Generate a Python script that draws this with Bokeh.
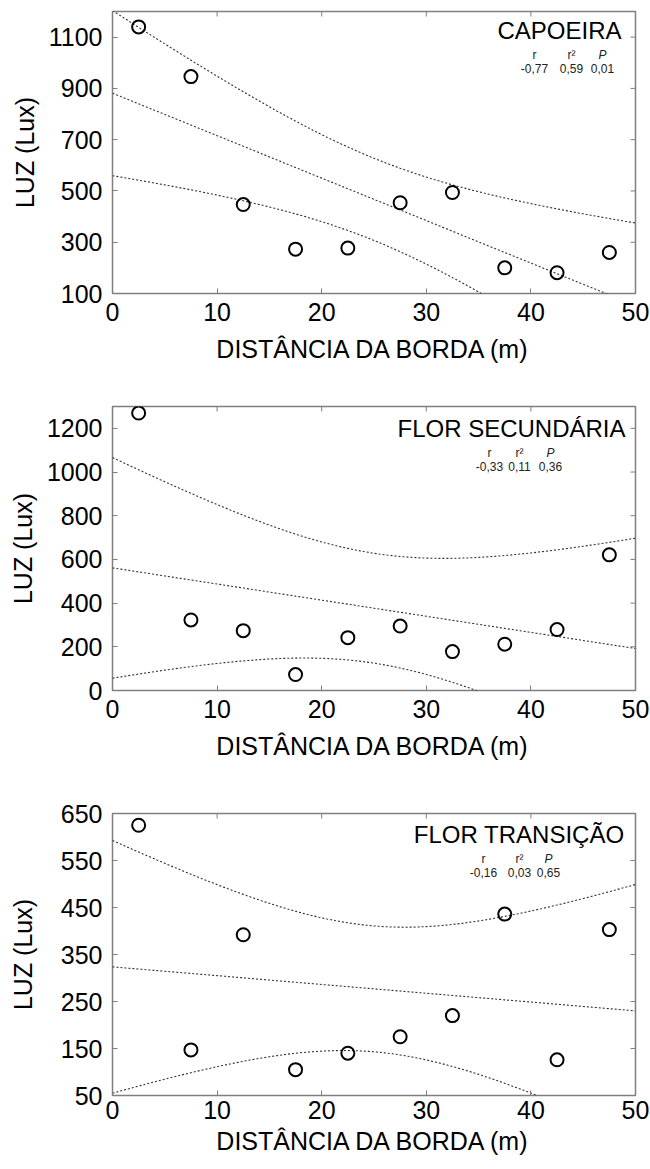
import numpy as np
from bokeh.plotting import figure
from bokeh.layouts import column
from bokeh.models import Range1d, FixedTicker, Label
from bokeh.embed import file_html
from bokeh.resources import INLINE

# ---------------- data ----------------
distance = [2.5, 7.5, 12.5, 17.5, 22.5, 27.5, 32.5, 37.5, 42.5, 47.5]
luz_capoeira = [1140, 946, 447, 273, 277, 454, 494, 200, 181, 260]
luz_secundaria = [1270, 323, 274, 73, 242, 295, 178, 212, 279, 621]
luz_transicao = [625, 147, 392, 105, 140, 175, 220, 436, 126, 403]

titles = ["CAPOEIRA", "FLOR SECUNDÁRIA", "FLOR TRANSIÇÃO"]
stat_r = ["-0,77", "-0,33", "-0,16"]
stat_r2 = ["0,59", "0,11", "0,03"]
stat_p = ["0,01", "0,36", "0,65"]

x_ticks = [0, 10, 20, 30, 40, 50]
y_ticks_capoeira = [100, 300, 500, 700, 900, 1100]
y_ticks_secundaria = [0, 200, 400, 600, 800, 1000, 1200]
y_ticks_transicao = [50, 150, 250, 350, 450, 550, 650]

x_label = "DISTÂNCIA DA BORDA (m)"
y_label = "LUZ (Lux)"

T_CRIT = 2.306  # t(0.975, df=8)

FONT = "Liberation Sans"
FRAME_COLOR = "#7f7f7f"
TICK_PX = 5


def regression_bands(x, y, xs):
    x = np.asarray(x, float)
    y = np.asarray(y, float)
    n = len(x)
    b, a = np.polyfit(x, y, 1)
    resid = y - (a + b * x)
    s = np.sqrt(np.sum(resid ** 2) / (n - 2))
    sxx = np.sum((x - x.mean()) ** 2)
    fit = a + b * xs
    half = T_CRIT * s * np.sqrt(1.0 / n + (xs - x.mean()) ** 2 / sxx)
    return fit, fit - half, fit + half


panels = [
    dict(y=luz_capoeira, ticks=y_ticks_capoeira, yr=(100, 1200), height=396,
         top=11, bottom=103, frame_h=282, tick_so=9, xlab_so=11, ylab_so=7,
         title_px=(509, 19), head_dy=43, val_dy=57, cols=(422, 459, 490)),
    dict(y=luz_secundaria, ticks=y_ticks_secundaria, yr=(0, 1300), height=397,
         top=10, bottom=103, frame_h=284, tick_so=9, xlab_so=11, ylab_so=7,
         title_px=(513, 22), head_dy=46, val_dy=60, cols=(377, 407, 438)),
    dict(y=luz_transicao, ticks=y_ticks_transicao, yr=(50, 650), height=376,
         top=20, bottom=74, frame_h=282, tick_so=5, xlab_so=5, ylab_so=21,
         title_px=(512, 21), head_dy=45, val_dy=59, cols=(371, 407, 436)),
]

FRAME_W = 523
figs = []
for i, cfg in enumerate(panels):
    y0, y1 = cfg["yr"]
    fh = cfg["frame_h"]

    def xd(px):
        return px / FRAME_W * 50.0

    def yd(px):
        return y1 - px / fh * (y1 - y0)

    p = figure(width=650, height=cfg["height"], output_backend="svg",
               toolbar_location=None, x_range=Range1d(0, 50),
               y_range=Range1d(y0, y1), min_border_left=112,
               min_border_right=15, min_border_top=cfg["top"],
               min_border_bottom=cfg["bottom"])
    p.xgrid.visible = False
    p.ygrid.visible = False
    p.outline_line_color = FRAME_COLOR
    p.outline_line_width = 1.5
    p.background_fill_color = "white"
    p.border_fill_color = "white"

    for ax, ticks in ((p.xaxis[0], x_ticks), (p.yaxis[0], cfg["ticks"])):
        ax.ticker = FixedTicker(ticks=ticks)
        ax.axis_line_color = None
        ax.major_tick_in = TICK_PX
        ax.major_tick_out = 0
        ax.major_tick_line_color = FRAME_COLOR
        ax.minor_tick_line_color = None
        ax.major_label_text_font = FONT
        ax.major_label_text_font_size = "25px"
        ax.major_label_text_color = "black"
        ax.axis_label_text_font = FONT
        ax.axis_label_text_font_size = "25px"
        ax.axis_label_text_font_style = "normal"
        ax.axis_label_text_color = "black"
    p.xaxis[0].axis_label = x_label
    p.yaxis[0].axis_label = y_label
    p.xaxis[0].major_label_standoff = cfg["tick_so"]
    p.yaxis[0].major_label_standoff = 10
    p.xaxis[0].axis_label_standoff = cfg["xlab_so"]
    p.yaxis[0].axis_label_standoff = cfg["ylab_so"]

    # mirrored inner ticks on the top and right edges of the frame
    inner_x = [t for t in x_ticks if 0 < t < 50]
    p.segment(x0=inner_x, y0=[y1] * len(inner_x), x1=inner_x,
              y1=[yd(TICK_PX)] * len(inner_x), line_color=FRAME_COLOR,
              line_width=1)
    inner_y = [t for t in cfg["ticks"] if y0 < t < y1]
    p.segment(x0=[50] * len(inner_y), y0=inner_y,
              x1=[xd(FRAME_W - TICK_PX)] * len(inner_y), y1=inner_y,
              line_color=FRAME_COLOR, line_width=1)

    # regression line and 95% confidence bands
    xs = np.linspace(0, 50, 201)
    fit, lo, hi = regression_bands(distance, cfg["y"], xs)
    for line in (fit, lo, hi):
        p.line(xs, line, line_color="#303030", line_width=1.1, line_dash="2 2")

    p.scatter(distance, cfg["y"], marker="circle", size=13, fill_color=None,
              line_color="black", line_width=2)

    tx, ty = cfg["title_px"]
    p.add_layout(Label(x=xd(tx), y=yd(ty), text=titles[i], text_font=FONT,
                       text_font_size="24px", text_align="right",
                       text_baseline="middle", text_color="black"))
    heads = ["r", "r²", "P"]
    vals = [stat_r[i], stat_r2[i], stat_p[i]]
    for j, cx in enumerate(cfg["cols"]):
        p.add_layout(Label(x=xd(cx), y=yd(cfg["head_dy"]), text=heads[j],
                           text_font=FONT, text_font_size="12px",
                           text_font_style="italic" if j == 2 else "normal",
                           text_align="center", text_baseline="middle",
                           text_color="#222222"))
        p.add_layout(Label(x=xd(cx), y=yd(cfg["val_dy"]), text=vals[j],
                           text_font=FONT, text_font_size="12px",
                           text_align="center", text_baseline="middle",
                           text_color="#222222"))
    figs.append(p)

layout = column(*figs, spacing=0)
open("out.html", "w").write(file_html(layout, INLINE))
